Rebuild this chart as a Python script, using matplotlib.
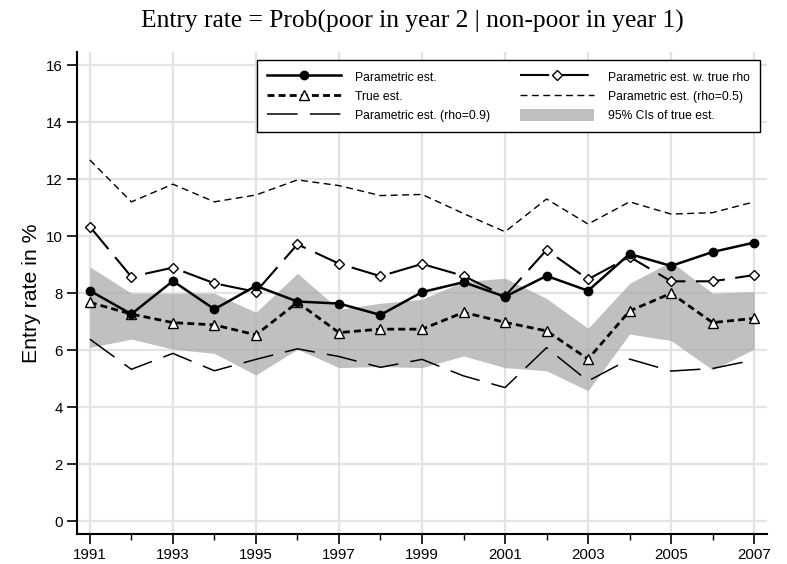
import numpy as np
import matplotlib.pyplot as plt
from matplotlib.patches import Patch
from matplotlib.lines import Line2D

years = list(range(1991, 2008))

param_est = [8.09, 7.27, 8.43, 7.44, 8.26, 7.71, 7.64, 7.24, 8.04,
             8.39, 7.88, 8.61, 8.09, 9.38, 8.96, 9.45, 9.78]
true_est = [7.68, 7.27, 6.97, 6.89, 6.54, 7.68, 6.62, 6.74, 6.74,
            7.33, 6.98, 6.68, 5.69, 7.38, 8.00, 6.97, 7.12]
param_rho09 = [6.39, 5.33, 5.89, 5.28, 5.68, 6.05, 5.78, 5.40, 5.68,
               5.10, 4.69, 6.09, 4.92, 5.69, 5.27, 5.36, 5.66]
param_true_rho = [10.34, 8.58, 8.90, 8.35, 8.05, 9.72, 9.04, 8.60, 9.03,
                  8.61, 7.90, 9.52, 8.49, 9.28, 8.42, 8.42, 8.64]
param_rho05 = [12.68, 11.21, 11.83, 11.21, 11.45, 11.98, 11.78, 11.43, 11.47,
               10.80, 10.16, 11.31, 10.43, 11.21, 10.78, 10.83, 11.21]
ci_upper = [8.93, 8.00, 8.00, 8.00, 7.33, 8.70, 7.44, 7.65, 7.79,
            8.41, 8.53, 7.82, 6.77, 8.35, 9.11, 8.00, 8.06]
ci_lower = [6.10, 6.39, 6.04, 5.89, 5.13, 6.04, 5.39, 5.43, 5.39,
            5.80, 5.39, 5.28, 4.58, 6.57, 6.34, 5.31, 6.04]

plt.rcParams['font.family'] = ['Liberation Sans', 'DejaVu Sans']

fig = plt.figure(figsize=(7.87, 5.64), dpi=100)
ax = fig.add_axes([0.0978, 0.0527, 0.8768, 0.8551])

# grid under everything
ax.set_axisbelow(True)
ax.grid(True, which='major', color='#e3e3e3', linewidth=1.6)

ax.fill_between(years, ci_lower, ci_upper, color='#a8a8a8', alpha=0.72,
                linewidth=0, zorder=1)

ax.plot(years, param_rho05, color='black', linewidth=1.0,
        dashes=(5, 3.2), zorder=2)
ax.plot(years, param_rho09, color='black', linewidth=1.1,
        dashes=(20, 8), zorder=2)
ax.plot(years, param_true_rho, color='black', linewidth=1.5,
        dashes=(14, 5), marker='D', markersize=5.5, markerfacecolor='white',
        markeredgecolor='black', markeredgewidth=1.0, zorder=3)
ax.plot(years, true_est, color='black', linewidth=2.0,
        dashes=(2.5, 1.5), marker='^', markersize=6.5, markerfacecolor='white',
        markeredgecolor='black', markeredgewidth=1.0, zorder=4)
ax.plot(years, param_est, color='black', linewidth=1.8,
        marker='o', markersize=6, markerfacecolor='black', zorder=5)

ax.set_xlim(1990.69, 2007.31)
ax.set_ylim(-0.46, 16.47)
ax.set_xticks(list(range(1991, 2008, 2)))
ax.set_xticks(list(range(1992, 2008, 2)), minor=True)
ax.set_yticks(list(range(0, 17, 2)))
ax.tick_params(axis='both', which='major', labelsize=10.8, direction='out',
               length=7, width=1.2, pad=3)
ax.tick_params(axis='x', which='minor', direction='out', length=4, width=1.0)
for s in ['top', 'right']:
    ax.spines[s].set_visible(False)
for s in ['left', 'bottom']:
    ax.spines[s].set_linewidth(1.5)

ax.set_ylabel('Entry rate in %', fontsize=15.3, labelpad=4)
fig.text(0.524, 0.962, 'Entry rate = Prob(poor in year 2 | non-poor in year 1)',
         ha='center', va='center', fontsize=18.4, family='Liberation Serif')

handles = [
    Line2D([], [], color='black', linewidth=1.8, marker='o', markersize=6),
    Line2D([], [], color='black', linewidth=2.0, dashes=(2.5, 1.5), marker='^',
           markersize=6.5, markerfacecolor='white', markeredgewidth=1.0),
    Line2D([], [], color='black', linewidth=1.1, dashes=(20, 8)),
    Line2D([], [], color='black', linewidth=1.5, dashes=(14, 5), marker='D',
           markersize=5.5, markerfacecolor='white', markeredgewidth=1.0),
    Line2D([], [], color='black', linewidth=1.0, dashes=(5, 3.2)),
    Patch(facecolor='#c0c0c0', edgecolor='none'),
]
labels = ['Parametric est.', 'True est.', 'Parametric est. (rho=0.9)',
          'Parametric est. w. true rho', 'Parametric est. (rho=0.5)',
          '95% CIs of true est.']
leg = ax.legend(handles, labels, ncol=2, loc='upper right',
                bbox_to_anchor=(0.9899, 0.9834), borderaxespad=0,
                fontsize=8.7, frameon=True,
                fancybox=False, edgecolor='black', framealpha=1,
                handlelength=6.1, handleheight=1.2, labelspacing=0.5,
                columnspacing=2.5, borderpad=0.85, handletextpad=1.16)
leg.get_frame().set_linewidth(1.0)

fig.savefig('out.png', dpi=100)
